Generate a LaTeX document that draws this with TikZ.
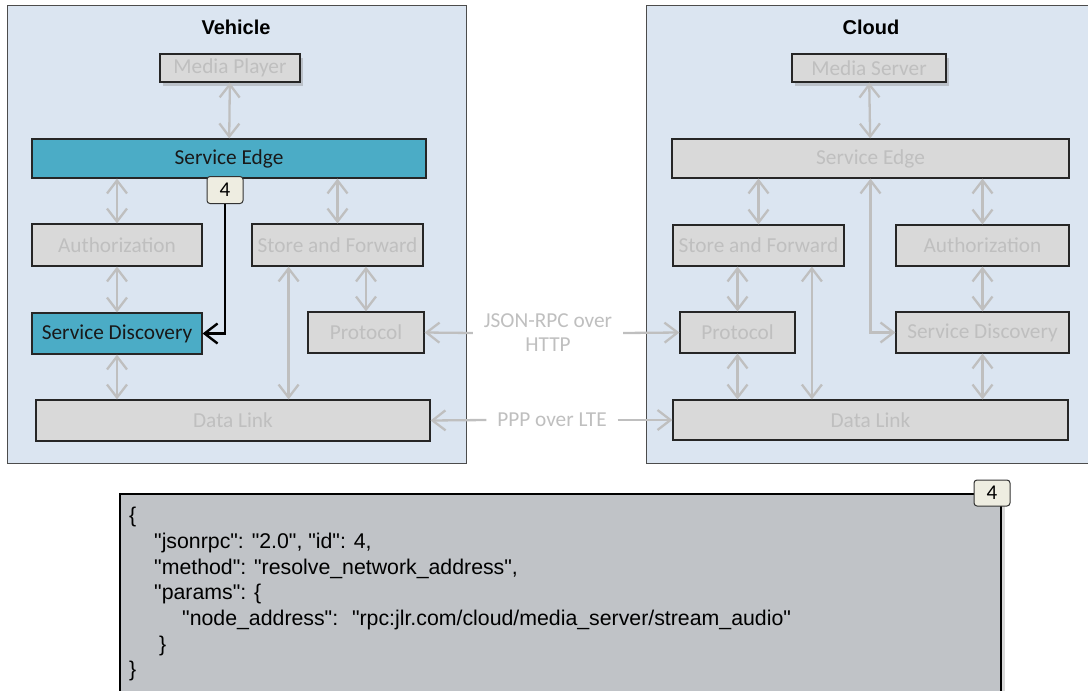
\documentclass[tikz,border=0pt]{standalone}
\usepackage{fontspec}
\setmainfont{Carlito}
\newfontfamily\arialfont{Liberation Sans}
\usepackage{tikz}
\usetikzlibrary{calc, arrows.meta, positioning, shadows}
\usepackage{xcolor}
\definecolor{panelblue}{HTML}{DBE5F1}
\definecolor{boxgray}{HTML}{D9D9D9}
\definecolor{dimtext}{HTML}{BFBFBF}
\definecolor{teal}{HTML}{4BACC6}
\definecolor{badgefill}{HTML}{EEEDE1}
\definecolor{codegray}{HTML}{C0C3C7}

\begin{document}
\begin{tikzpicture}[x=1pt, y=-1pt,
    panel/.style={draw=black!70, line width=1.3pt, fill=panelblue, inner sep=0, anchor=north west},
    title/.style={font=\arialfont\bfseries\fontsize{20}{24}\selectfont},
    layer/.style={draw=black!85, line width=1.2pt, fill=boxgray, text=dimtext, inner sep=0,
      font=\fontsize{21.3}{25}\selectfont},
    active/.style={layer, fill=teal, text=black!90},
    lifted/.style={drop shadow={shadow xshift=3pt, shadow yshift=-4pt, opacity=0.35}},
    badge/.style={draw=black!80, line width=1pt, fill=badgefill, rounded corners=3pt,
      minimum width=36pt, minimum height=27pt, inner sep=0, font=\fontsize{21}{24}\selectfont},
    link/.style={draw=dimtext, line width=2.3pt,
      {Straight Barb[length=13pt,width=20pt]}-{Straight Barb[length=13pt,width=20pt]}},
    oneway/.style={draw=dimtext, line width=2.3pt, -{Straight Barb[length=13pt,width=20pt]}},
    wire/.style={text=dimtext, font=\fontsize{21.3}{24}\selectfont, align=center, inner sep=0, outer sep=11pt}]
  \useasboundingbox (0,0) rectangle (1088,691);
  \clip (0,0) rectangle (1088,691);

  % two sides
  \node[panel, minimum width=459pt, minimum height=458pt] (vehicle) at (7,5) {};
  \node[panel, minimum width=460pt, minimum height=458pt] (cloud) at (646,5) {};
  \node[title] at (236,27) {Vehicle};
  \node[title] at (871,27) {Cloud};

  % vehicle stack
  \node[layer, lifted, minimum width=140pt, minimum height=28pt] (vmp) at (230,68) {Media Player};
  \node[active, minimum width=394pt, minimum height=39pt] (vse) at (229,158.5) {Service Edge};
  \node[layer, minimum width=170pt, minimum height=42pt] (vauth) at (117,245) {Authorization};
  \node[layer, minimum width=171pt, minimum height=42pt] (vsf) at (337.5,245) {Store and Forward};
  \node[active, minimum width=170pt, minimum height=41pt] (vsd) at (117,333.5) {Service Discovery};
  \node[layer, minimum width=116pt, minimum height=41pt] (vproto) at (366,332.5) {Protocol};
  \node[layer, minimum width=394pt, minimum height=41pt] (vdl) at (233,420.5) {Data Link};

  \draw[link] (vmp) -- (vse);
  \draw[link] (vauth.north) -- (vauth.north |- vse.south);
  \draw[link] (vsf.north) -- (vsf.north |- vse.south);
  \draw[link] (vauth) -- (vsd);
  \draw[link] (vsd.south) -- (vsd.south |- vdl.north);
  \draw[link] (vproto.north) -- (vproto.north |- vsf.south);
  \coordinate (vsfdrop) at ($(vsf.south west)!0.216!(vsf.south east)$);
  \draw[link] (vsfdrop) -- (vsfdrop |- vdl.north);

  \node[badge] (vbadge) at (225,190) {4};
  \draw[black, line width=2.4pt, -{Straight Barb[length=13pt,width=20pt]}] (vbadge.south) |- (vsd.east);

  % cloud stack
  \node[layer, lifted, minimum width=154pt, minimum height=28pt] (cms) at (869,68) {Media Server};
  \node[layer, minimum width=397pt, minimum height=39pt] (cse) at (870.5,158.5) {Service Edge};
  \node[layer, minimum width=171pt, minimum height=41pt] (csf) at (758.5,245.5) {Store and Forward};
  \node[layer, minimum width=173pt, minimum height=41pt] (cauth) at (982.5,245.5) {Authorization};
  \node[layer, minimum width=115pt, minimum height=41pt] (cproto) at (737.5,332.5) {Protocol};
  \node[layer, minimum width=173pt, minimum height=41pt] (csd) at (982.5,332.5) {Service Discovery};
  \node[layer, minimum width=395pt, minimum height=40pt] (cdl) at (870.5,420) {Data Link};

  \draw[link] (cms) -- (cse);
  \draw[link] (csf.north) -- (csf.north |- cse.south);
  \draw[link] (cauth.north) -- (cauth.north |- cse.south);
  \draw[link] (cproto.north) -- (cproto.north |- csf.south);
  \draw[link] (cproto.south) -- (cproto.south |- cdl.north);
  \coordinate (csfdrop) at ($(csf.south west)!0.81!(csf.south east)$);
  \draw[link] (csfdrop) -- (csfdrop |- cdl.north);
  \draw[link] (cauth) -- (csd);
  \draw[link] (csd.south) -- (csd.south |- cdl.north);
  \draw[link] (cse.south) |- (csd.west);

  % between the two
  \node[wire] (rpc) at (548,333) {JSON-RPC over\\HTTP};
  \node[wire] (ppp) at (552,420) {PPP over LTE};
  \draw[oneway] (rpc.west) -- (vproto.east);
  \draw[oneway] (rpc.east) -- (cproto.west);
  \draw[oneway] (ppp.west) -- (vdl.east);
  \draw[oneway] (ppp.east) -- (cdl.west);

  % message 4
  \node[draw=black, line width=2pt, fill=codegray, anchor=north west, inner sep=0,
    minimum width=881pt, minimum height=240pt,
    drop shadow={shadow xshift=4pt, shadow yshift=0pt, opacity=0.3}] (msg) at (119,493) {};
  \node[anchor=north west, inner sep=0, align=left, font=\arialfont\fontsize{21.3}{25.7}\selectfont]
    (msgtext) at (129,507) {\{\\
    \hspace*{25pt}"jsonrpc": "2.0", "id": 4,\\
    \hspace*{25pt}"method": "resolve\_network\_address",\\
    \hspace*{25pt}"params": \{\\
    \hspace*{53pt}"node\_address": \ "rpc:jlr.com/cloud/media\_server/stream\_audio"\\
    \hspace*{30pt}\}\\
    \}};
  \node[badge, minimum height=26pt] (mbadge) at (992,493) {4};
\end{tikzpicture}
\end{document}
